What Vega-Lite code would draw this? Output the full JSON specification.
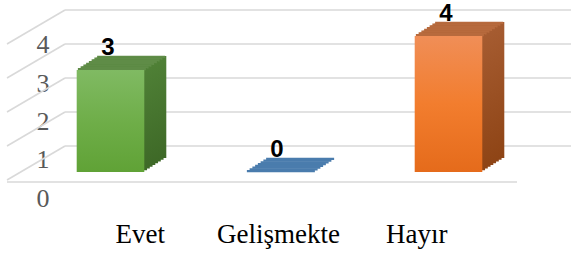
{
  "$schema": "https://vega.github.io/schema/vega-lite/v6.json",
  "width": 571,
  "height": 200,
  "autosize": {"type": "none"},
  "padding": {"left": 0, "top": 0, "right": 0, "bottom": 57},
  "background": "white",
  "config": {"view": {"stroke": null}, "axis": {"labelFont": "Liberation Serif"}},
  "datasets": {
    "bars": [
      {"cat": "Evet", "v": 3},
      {"cat": "Gelişmekte", "v": 0},
      {"cat": "Hayır", "v": 4}
    ],
    "ticks": [{"t": 0}, {"t": 1}, {"t": 2}, {"t": 3}, {"t": 4}]
  },
  "resolve": {"scale": {"x": "independent", "y": "independent"}, "axis": {"x": "independent", "y": "independent"}},
  "layer": [
    {
      "data": {"name": "ticks"},
      "encoding": {
        "y": {"field": "t", "type": "quantitative", "scale": {"domain": [-0.8235, 5.0588], "nice": false, "zero": false}, "axis": null}
      },
      "layer": [
        {
          "mark": {"type": "rule", "color": "#d9d9d9", "strokeWidth": 1.6, "yOffset": -26},
          "encoding": {
            "x": {"datum": 0.2308, "type": "quantitative", "scale": {"domain": [0, 3], "range": [26, 533], "nice": false, "zero": false}, "axis": null},
            "x2": {"datum": 3.2249}
          }
        },
        {
          "mark": {"type": "rule", "color": "#d9d9d9", "strokeWidth": 1.6, "yOffset": -26, "y2Offset": 8},
          "encoding": {
            "x": {"datum": 0.2308, "type": "quantitative"},
            "x2": {"datum": -0.1124},
            "y2": {"field": "t"}
          }
        },
        {
          "transform": [{"filter": "datum.t === 0"}],
          "mark": {"type": "rule", "color": "#d9d9d9", "strokeWidth": 1.6, "yOffset": 10},
          "encoding": {
            "x": {"datum": -0.1124, "type": "quantitative"},
            "x2": {"datum": 2.9053},
            "y": {"datum": 0, "type": "quantitative"}
          }
        }
      ]
    },
    {
      "data": {"name": "bars"},
      "encoding": {
        "x": {"field": "cat", "type": "nominal", "sort": null, "scale": {"type": "band", "range": [26, 533], "paddingInner": 0.6, "paddingOuter": 0.3}, "axis": null},
        "y": {"field": "v", "type": "quantitative", "scale": {"domain": [-0.8235, 5.0588], "nice": false, "zero": false}, "axis": null}
      },
      "layer": [
        {"mark": {"type": "bar", "xOffset": 22, "yOffset": -14, "y2Offset": -14}, "encoding": {"y2": {"datum": 0}, "fill": {"condition": [{"test": "datum.cat === 'Evet'", "value": {"gradient": "linear", "x1": 0, "y1": 0, "x2": 0, "y2": 1, "stops": [{"offset": 0, "color": "#4f8036"}, {"offset": 1, "color": "#3e6927"}]}}, {"test": "datum.cat === 'Hayır'", "value": {"gradient": "linear", "x1": 0, "y1": 0, "x2": 0, "y2": 1, "stops": [{"offset": 0, "color": "#a65c31"}, {"offset": 1, "color": "#8e4415"}]}}], "value": "#4a7cad"}}},
        {"mark": {"type": "tick", "size": 68, "thickness": 2.3, "opacity": 1, "filled": true, "xOffset": 20.625, "yOffset": -13.125}, "encoding": {"fill": {"condition": [{"test": "datum.cat === 'Evet'", "value": "#5f8c47"}, {"test": "datum.cat === 'Hayır'", "value": "#b76a3d"}], "value": "#4a7cad"}}},
        {"mark": {"type": "bar", "xOffset": 19.25, "yOffset": -12.25, "y2Offset": -12.25}, "encoding": {"y2": {"datum": 0}, "fill": {"condition": [{"test": "datum.cat === 'Evet'", "value": {"gradient": "linear", "x1": 0, "y1": 0, "x2": 0, "y2": 1, "stops": [{"offset": 0, "color": "#4f8036"}, {"offset": 1, "color": "#3e6927"}]}}, {"test": "datum.cat === 'Hayır'", "value": {"gradient": "linear", "x1": 0, "y1": 0, "x2": 0, "y2": 1, "stops": [{"offset": 0, "color": "#a65c31"}, {"offset": 1, "color": "#8e4415"}]}}], "value": "#4a7cad"}}},
        {"mark": {"type": "tick", "size": 68, "thickness": 2.3, "opacity": 1, "filled": true, "xOffset": 17.875, "yOffset": -11.375}, "encoding": {"fill": {"condition": [{"test": "datum.cat === 'Evet'", "value": "#5f8c47"}, {"test": "datum.cat === 'Hayır'", "value": "#b76a3d"}], "value": "#4a7cad"}}},
        {"mark": {"type": "bar", "xOffset": 16.5, "yOffset": -10.5, "y2Offset": -10.5}, "encoding": {"y2": {"datum": 0}, "fill": {"condition": [{"test": "datum.cat === 'Evet'", "value": {"gradient": "linear", "x1": 0, "y1": 0, "x2": 0, "y2": 1, "stops": [{"offset": 0, "color": "#4f8036"}, {"offset": 1, "color": "#3e6927"}]}}, {"test": "datum.cat === 'Hayır'", "value": {"gradient": "linear", "x1": 0, "y1": 0, "x2": 0, "y2": 1, "stops": [{"offset": 0, "color": "#a65c31"}, {"offset": 1, "color": "#8e4415"}]}}], "value": "#4a7cad"}}},
        {"mark": {"type": "tick", "size": 68, "thickness": 2.3, "opacity": 1, "filled": true, "xOffset": 15.125, "yOffset": -9.625}, "encoding": {"fill": {"condition": [{"test": "datum.cat === 'Evet'", "value": "#5f8c47"}, {"test": "datum.cat === 'Hayır'", "value": "#b76a3d"}], "value": "#4a7cad"}}},
        {"mark": {"type": "bar", "xOffset": 13.75, "yOffset": -8.75, "y2Offset": -8.75}, "encoding": {"y2": {"datum": 0}, "fill": {"condition": [{"test": "datum.cat === 'Evet'", "value": {"gradient": "linear", "x1": 0, "y1": 0, "x2": 0, "y2": 1, "stops": [{"offset": 0, "color": "#4f8036"}, {"offset": 1, "color": "#3e6927"}]}}, {"test": "datum.cat === 'Hayır'", "value": {"gradient": "linear", "x1": 0, "y1": 0, "x2": 0, "y2": 1, "stops": [{"offset": 0, "color": "#a65c31"}, {"offset": 1, "color": "#8e4415"}]}}], "value": "#4a7cad"}}},
        {"mark": {"type": "tick", "size": 68, "thickness": 2.3, "opacity": 1, "filled": true, "xOffset": 12.375, "yOffset": -7.875}, "encoding": {"fill": {"condition": [{"test": "datum.cat === 'Evet'", "value": "#5f8c47"}, {"test": "datum.cat === 'Hayır'", "value": "#b76a3d"}], "value": "#4a7cad"}}},
        {"mark": {"type": "bar", "xOffset": 11, "yOffset": -7, "y2Offset": -7}, "encoding": {"y2": {"datum": 0}, "fill": {"condition": [{"test": "datum.cat === 'Evet'", "value": {"gradient": "linear", "x1": 0, "y1": 0, "x2": 0, "y2": 1, "stops": [{"offset": 0, "color": "#4f8036"}, {"offset": 1, "color": "#3e6927"}]}}, {"test": "datum.cat === 'Hayır'", "value": {"gradient": "linear", "x1": 0, "y1": 0, "x2": 0, "y2": 1, "stops": [{"offset": 0, "color": "#a65c31"}, {"offset": 1, "color": "#8e4415"}]}}], "value": "#4a7cad"}}},
        {"mark": {"type": "tick", "size": 68, "thickness": 2.3, "opacity": 1, "filled": true, "xOffset": 9.625, "yOffset": -6.125}, "encoding": {"fill": {"condition": [{"test": "datum.cat === 'Evet'", "value": "#5f8c47"}, {"test": "datum.cat === 'Hayır'", "value": "#b76a3d"}], "value": "#4a7cad"}}},
        {"mark": {"type": "bar", "xOffset": 8.25, "yOffset": -5.25, "y2Offset": -5.25}, "encoding": {"y2": {"datum": 0}, "fill": {"condition": [{"test": "datum.cat === 'Evet'", "value": {"gradient": "linear", "x1": 0, "y1": 0, "x2": 0, "y2": 1, "stops": [{"offset": 0, "color": "#4f8036"}, {"offset": 1, "color": "#3e6927"}]}}, {"test": "datum.cat === 'Hayır'", "value": {"gradient": "linear", "x1": 0, "y1": 0, "x2": 0, "y2": 1, "stops": [{"offset": 0, "color": "#a65c31"}, {"offset": 1, "color": "#8e4415"}]}}], "value": "#4a7cad"}}},
        {"mark": {"type": "tick", "size": 68, "thickness": 2.3, "opacity": 1, "filled": true, "xOffset": 6.875, "yOffset": -4.375}, "encoding": {"fill": {"condition": [{"test": "datum.cat === 'Evet'", "value": "#5f8c47"}, {"test": "datum.cat === 'Hayır'", "value": "#b76a3d"}], "value": "#4a7cad"}}},
        {"mark": {"type": "bar", "xOffset": 5.5, "yOffset": -3.5, "y2Offset": -3.5}, "encoding": {"y2": {"datum": 0}, "fill": {"condition": [{"test": "datum.cat === 'Evet'", "value": {"gradient": "linear", "x1": 0, "y1": 0, "x2": 0, "y2": 1, "stops": [{"offset": 0, "color": "#4f8036"}, {"offset": 1, "color": "#3e6927"}]}}, {"test": "datum.cat === 'Hayır'", "value": {"gradient": "linear", "x1": 0, "y1": 0, "x2": 0, "y2": 1, "stops": [{"offset": 0, "color": "#a65c31"}, {"offset": 1, "color": "#8e4415"}]}}], "value": "#4a7cad"}}},
        {"mark": {"type": "tick", "size": 68, "thickness": 2.3, "opacity": 1, "filled": true, "xOffset": 4.125, "yOffset": -2.625}, "encoding": {"fill": {"condition": [{"test": "datum.cat === 'Evet'", "value": "#5f8c47"}, {"test": "datum.cat === 'Hayır'", "value": "#b76a3d"}], "value": "#4a7cad"}}},
        {"mark": {"type": "bar", "xOffset": 2.75, "yOffset": -1.75, "y2Offset": -1.75}, "encoding": {"y2": {"datum": 0}, "fill": {"condition": [{"test": "datum.cat === 'Evet'", "value": {"gradient": "linear", "x1": 0, "y1": 0, "x2": 0, "y2": 1, "stops": [{"offset": 0, "color": "#4f8036"}, {"offset": 1, "color": "#3e6927"}]}}, {"test": "datum.cat === 'Hayır'", "value": {"gradient": "linear", "x1": 0, "y1": 0, "x2": 0, "y2": 1, "stops": [{"offset": 0, "color": "#a65c31"}, {"offset": 1, "color": "#8e4415"}]}}], "value": "#4a7cad"}}},
        {"mark": {"type": "tick", "size": 68, "thickness": 2.3, "opacity": 1, "filled": true, "xOffset": 1.375, "yOffset": -0.875}, "encoding": {"fill": {"condition": [{"test": "datum.cat === 'Evet'", "value": "#5f8c47"}, {"test": "datum.cat === 'Hayır'", "value": "#b76a3d"}], "value": "#4a7cad"}}},
        {"mark": {"type": "bar"}, "encoding": {"y2": {"datum": 0}, "fill": {"condition": [{"test": "datum.cat === 'Evet'", "value": {"gradient": "linear", "x1": 0, "y1": 0, "x2": 0, "y2": 1, "stops": [{"offset": 0, "color": "#80ba63"}, {"offset": 0.5, "color": "#6fae49"}, {"offset": 1, "color": "#60a236"}]}}, {"test": "datum.cat === 'Hayır'", "value": {"gradient": "linear", "x1": 0, "y1": 0, "x2": 0, "y2": 1, "stops": [{"offset": 0, "color": "#f08e57"}, {"offset": 0.5, "color": "#f27d2e"}, {"offset": 1, "color": "#e56b1b"}]}}], "value": "#4a7cad"}}},
        {"mark": {"type": "text", "font": "Liberation Sans", "fontWeight": "bold", "fontSize": 24, "color": "#000000", "baseline": "alphabetic", "align": "center", "yOffset": -15, "xOffset": -2.5}, "encoding": {"text": {"field": "v", "type": "quantitative"}}}
      ]
    },
    {
      "data": {"name": "bars"},
      "mark": {"type": "text", "opacity": 0},
      "encoding": {
        "x": {"field": "cat", "type": "nominal", "sort": null, "scale": {"type": "band", "range": [71, 486], "paddingInner": 0, "paddingOuter": 0},
          "axis": {"orient": "bottom", "title": null, "domain": false, "ticks": false, "tickSize": 0, "grid": false, "labelAngle": 0, "labelPadding": 42, "labelBaseline": "alphabetic", "labelFont": "Liberation Serif", "labelFontSize": 27, "labelColor": "#000000"}},
        "text": {"value": ""}
      }
    },
    {
      "data": {"name": "ticks"},
      "mark": {"type": "text", "opacity": 0},
      "encoding": {
        "y": {"field": "t", "type": "quantitative", "scale": {"domain": [-0.052, 5.17], "nice": false, "zero": false},
          "axis": {"orient": "left", "offset": -42.5, "title": null, "domain": false, "ticks": false, "tickSize": 0, "grid": false, "values": [0, 1, 2, 3, 4], "labelPadding": 0, "labelAlign": "center", "labelBaseline": "middle", "labelFont": "Liberation Serif", "labelFontSize": 26, "labelColor": "#595959"}},
        "text": {"value": ""}
      }
    }
  ]
}
